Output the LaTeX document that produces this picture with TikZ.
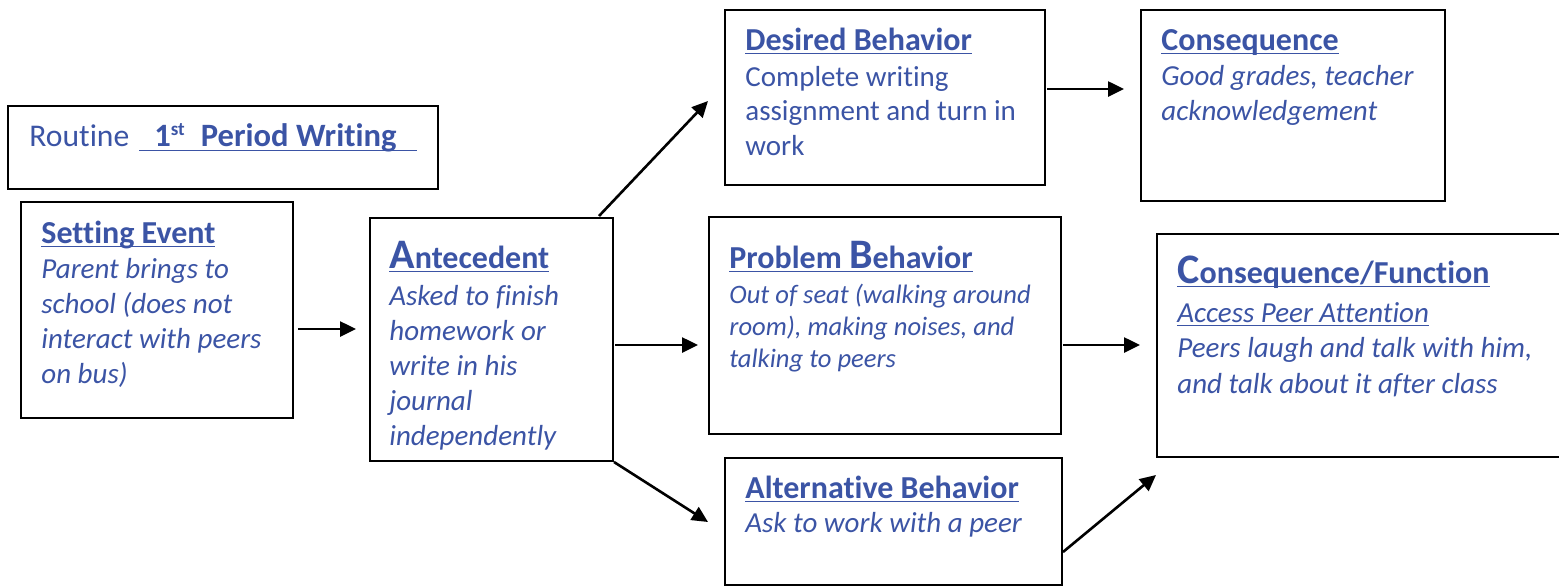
\documentclass[tikz,border=0pt]{standalone}
\usepackage{fontspec}
\setmainfont{Carlito}[Ligatures=NoCommon]
\usetikzlibrary{arrows.meta,calc,fit}
\definecolor{ink}{RGB}{59,84,165}
% underline drawn just under the baseline, crossing descenders
\newcommand\ulbar[2][-2.2pt]{\setbox0\hbox{#2}\rlap{\rule[#1]{\wd0}{0.75pt}}\box0}
% stacked left-aligned lines; the box baseline is that of the first line
\newcommand\lines[2]{\vtop{\baselineskip=#1\relax\lineskiplimit=-20pt\halign{##\hfil\cr#2\crcr}}}
\newcommand\initial[1]{{\fontsize{21}{21}\selectfont #1}}
\begin{document}
\begin{tikzpicture}[x=0.5pt,y=-0.5pt,
  box/.style={draw=black,line width=1pt,inner sep=0pt},
  txt/.style={inner sep=0pt,anchor=base west,text=ink},
  hd/.style={txt,font=\fontsize{16}{19}\selectfont\bfseries},
  bodyi/.style={txt,font=\fontsize{14.5}{17.5}\selectfont\itshape},
  bodyr/.style={txt,font=\fontsize{14.5}{17.5}\selectfont},
  arr/.style={line width=1.3pt,-{Triangle[length=8pt,width=7.5pt]}}]
\useasboundingbox (0,0) rectangle (1559,586);
\clip (0,0) rectangle (1559,586);

% boxes
\node[box,fit={(8,106) (438,189)}] (routine) {};
\node[box,fit={(21,202) (293,418)}] (setting) {};
\node[box,fit={(370,218) (613,461)}] (ante) {};
\node[box,fit={(725,10) (1045,185)}] (desired) {};
\node[box,fit={(1141,10) (1445,201)}] (cons) {};
\node[box,fit={(709,217) (1061,434)}] (problem) {};
\node[box,fit={(1157,234) (1620,457)}] (consfn) {};
\node[box,fit={(725,458) (1062,585)}] (alt) {};

% routine title
\node[txt,font=\fontsize{15.8}{18}\selectfont] (routineT) at (29,146)
  {Routine\hspace{5pt}\ulbar[-2.6pt]{\fontsize{16.3}{18}\selectfont\bfseries\hspace{7.5pt}1\raisebox{5.5pt}{\fontsize{9.5}{10}\selectfont st}\hspace{8pt}Period Writing\hspace{10pt}}};

% setting event
\node[hd] (settingH) at (41,243) {\ulbar{Setting Event}};
\node[bodyi] (settingB) at (41,278)
  {\lines{17.5pt}{Parent brings to\cr school (does not\cr interact with peers\cr on bus)}};

% antecedent
\node[hd] (anteH) at (389,268) {\ulbar{\initial{A}ntecedent}};
\node[bodyi] (anteB) at (389,305)
  {\lines{17.5pt}{Asked to finish\cr homework or\cr write in his\cr journal\cr independently}};

% desired behavior
\node[hd] (desiredH) at (745,50) {\ulbar{Desired Behavior}};
\node[bodyr] (desiredB) at (745,86)
  {\lines{17.25pt}{Complete writing\cr assignment and turn in\cr work}};

% consequence
\node[hd] (consH) at (1161,50) {\ulbar{Consequence}};
\node[bodyi] (consB) at (1161,85)
  {\lines{17.5pt}{Good grades, teacher\cr acknowledgement}};

% problem behavior
\node[hd] (problemH) at (729,268) {\ulbar{Problem \initial{B}ehavior}};
\node[txt,font=\fontsize{13.3}{16}\selectfont\itshape] (problemB) at (729,303)
  {\lines{16pt}{Out of seat (walking around\cr room), making noises, and\cr talking to peers}};

% consequence / function
\node[hd] (consfnH) at (1177,283) {\ulbar{\initial{C}onsequence/Function}};
\node[bodyi] (consfnB) at (1177,322)
  {\lines{17.75pt}{\ulbar[-2pt]{Access Peer Attention}\cr Peers laugh and talk with him,\cr and talk about it after class}};

% alternative behavior
\node[hd] (altH) at (745,498) {\ulbar{Alternative Behavior}};
\node[bodyi] (altB) at (745,532) {Ask to work with a peer};

% connectors
\draw[arr] ($(setting.north east)+(4,128)$) -- ($(ante.north west)+(-13,112)$);
\draw[arr] ($(ante.north east)+(1,128)$) -- ($(problem.north west)+(-10,129)$);
\draw[arr] ($(ante.north east)+(-15,-1)$) -- ($(desired.north west)+(-16,92)$);
\draw[arr] (ante.south east) -- ($(alt.north west)+(-16,65)$);
\draw[arr] ($(desired.north east)+(1,80)$) -- ($(cons.north west)+(-16,80)$);
\draw[arr] ($(problem.north east)+(1,129)$) -- ($(consfn.north west)+(-16,112)$);
\draw[arr] ($(alt.north east)+(0,95)$) -- ($(consfn.south west)+(0,17)$);
\end{tikzpicture}
\end{document}
